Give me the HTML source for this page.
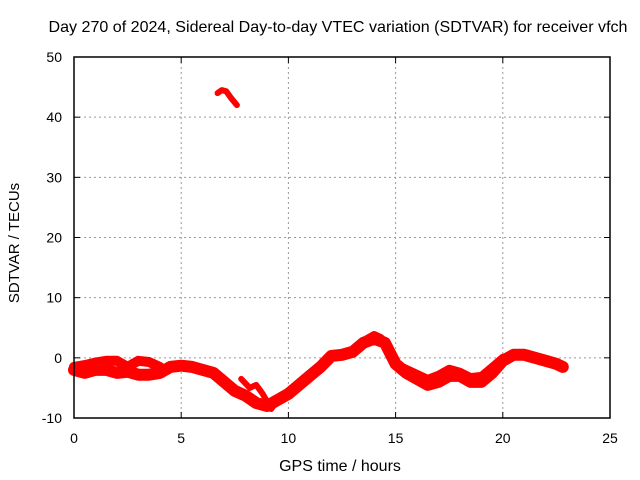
<!DOCTYPE html>
<html><head><meta charset="utf-8"><style>
body{margin:0;background:#fff}
svg{display:block;font-family:"Liberation Sans",sans-serif}
</style></head><body>
<svg id="chart" width="640" height="480">
<text x="338" y="32" font-size="16" text-anchor="middle" textLength="579" lengthAdjust="spacingAndGlyphs">Day 270 of 2024, Sidereal Day-to-day VTEC variation (SDTVAR) for receiver vfch</text>
<text x="340" y="471" font-size="16" text-anchor="middle">GPS time / hours</text>
<text transform="translate(19,243) rotate(-90)" font-size="15" text-anchor="middle">SDTVAR / TECUs</text>
<g id="grid"></g><g id="ticks"></g><g id="series"></g>
<rect x="74" y="57" width="536" height="361" fill="none" stroke="#000" stroke-width="1.5"/>
</svg>
<script>
const xTicks=[0,5,10,15,20,25];
const yTicks=[-10,0,10,20,30,40,50];
const mainT=[0,0.5,1,1.5,2,2.5,3,3.5,4,4.5,5,5.5,6,6.5,7,7.5,8,8.5,9,9.5,10,10.5,11,11.5,12,12.5,13,13.5,14,14.5,15,15.5,16,16.5,17,17.5,18,18.5,19,19.5,20,20.5,21,21.5,22,22.5,22.8];
const mainV=[-2,-2.5,-2,-2,-2.5,-2.3,-2.8,-2.8,-2.5,-1.5,-1.3,-1.5,-2,-2.5,-4,-5.5,-6.3,-7.5,-8,-7,-6,-4.5,-3,-1.5,0.3,0.5,1,2.5,3.2,2.5,-1,-2.5,-3.5,-4.5,-4,-3,-3,-4,-4,-2.5,-0.5,0.5,0.5,0,-0.5,-1,-1.5];
const bandT=[0,0.5,1,1.5,2,2.5,3,3.5,4];
const bandV=[-1.5,-1.2,-0.8,-0.5,-0.5,-1.5,-0.5,-0.7,-1.5];
const band2T=[13.3,13.7,14,14.3,14.7,15,16.5,17,17.5,18,18.5,19,19.5,20];
const band2V=[1.5,3.2,3.8,3.3,1.5,-1,-3.5,-2.8,-1.8,-2.3,-3.2,-3,-1.5,0];
const dipT=[7.8,8.2,8.5,8.8,9.2,9.5];
const dipV=[-3.5,-5,-4.5,-6,-8.5,-7];
const outT=[6.7,6.9,7.1,7.3,7.6];
const outV=[44,44.5,44.3,43.3,42];
const X=t=>74+t*536/25, Y=v=>418-(v+10)*361/60;
const ns="http://www.w3.org/2000/svg";
const grid=document.getElementById('grid'),ticks=document.getElementById('ticks'),ser=document.getElementById('series');
function mk(tag,attrs,parent){const e=document.createElementNS(ns,tag);for(const k in attrs)e.setAttribute(k,attrs[k]);parent.appendChild(e);return e;}
xTicks.forEach(t=>{
 if(t>0&&t<25){const g=mk('line',{x1:X(t),x2:X(t),y1:57,y2:418,stroke:'#999','stroke-dasharray':'2,3'},grid);
 
 }
 mk('line',{x1:X(t),x2:X(t),y1:418,y2:412,stroke:'#000'},ticks);
 mk('line',{x1:X(t),x2:X(t),y1:57,y2:63,stroke:'#000'},ticks);
 const l=mk('text',{x:X(t),y:443,'font-size':14,'text-anchor':'middle'},ticks);l.textContent=t;
 
 
});
yTicks.forEach(v=>{
 if(v>-10&&v<50){const g=mk('line',{x1:74,x2:610,y1:Y(v),y2:Y(v),stroke:'#999','stroke-dasharray':'2,3'},grid);
 
 }
 mk('line',{x1:74,x2:80,y1:Y(v),y2:Y(v),stroke:'#000'},ticks);
 mk('line',{x1:610,x2:604,y1:Y(v),y2:Y(v),stroke:'#000'},ticks);
 const l=mk('text',{x:62,y:Y(v)+5,'font-size':14,'text-anchor':'end'},ticks);l.textContent=v;
 
 
});
function line(T,V,w,name){
 const d=T.map((t,i)=>(i?'L':'M')+X(t).toFixed(1)+','+Y(V[i]).toFixed(1)).join('');
 const p=mk('path',{d:d,fill:'none',stroke:'#f00','stroke-width':w,'stroke-linejoin':'round','stroke-linecap':'round'},ser);
 
 
}
line(mainT,mainV,12,'sdtvar-main-series');
line(bandT,bandV,10,'sdtvar-early-band');
line(band2T,band2V,8,'sdtvar-late-band');
line(dipT,dipV,6,'sdtvar-dip-band');
line(outT,outV,6,'sdtvar-outlier-series');
</script>
</body></html>
